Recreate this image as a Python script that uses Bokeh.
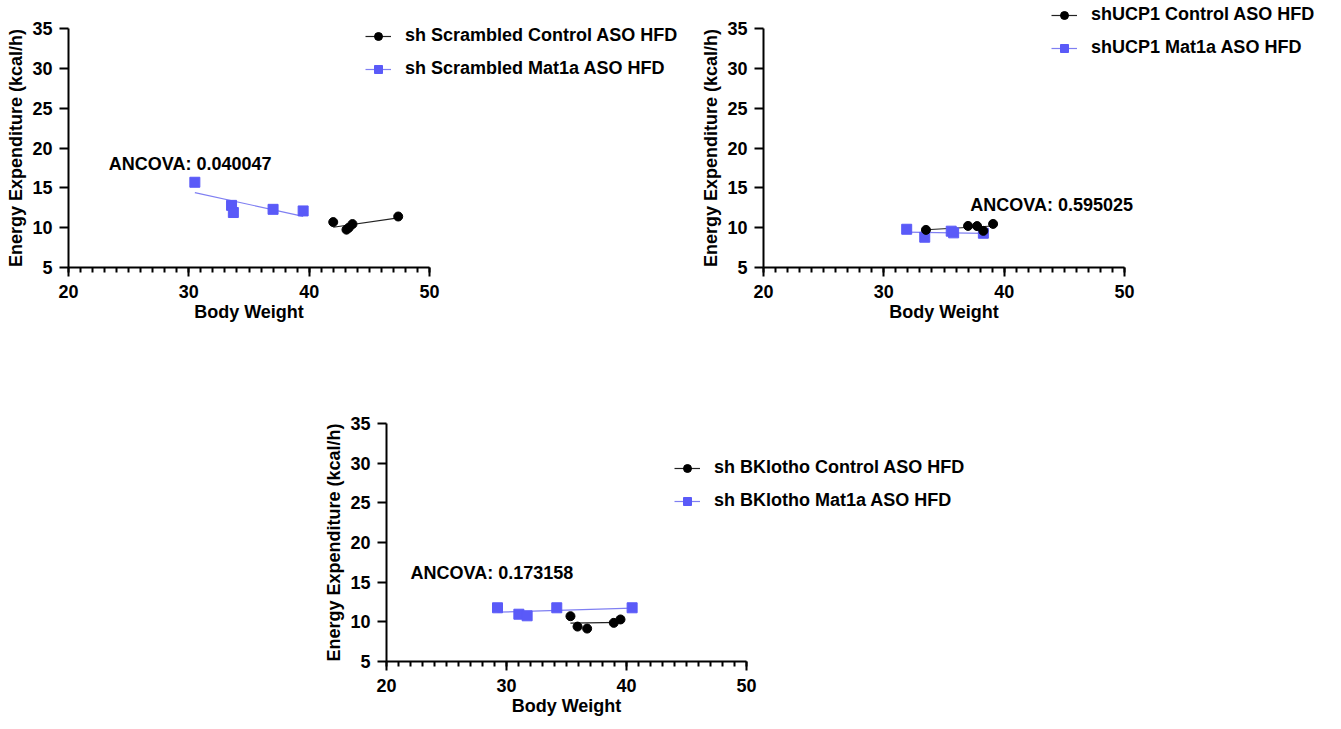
import numpy as np
from bokeh.plotting import figure
from bokeh.layouts import column, row
from bokeh.models import (Legend, LegendItem, Spacer, SingleIntervalTicker,
                          Range1d, Label)
from bokeh.embed import file_html
from bokeh.resources import INLINE

# ---------------- data ----------------
scr_ctrl_bw = [42.0, 43.1, 43.3, 43.6, 47.4]
scr_ctrl_ee = [10.7, 9.75, 10.0, 10.45, 11.4]
scr_mat_bw = [30.5, 33.55, 33.7, 37.0, 39.5]
scr_mat_ee = [15.7, 12.8, 11.9, 12.3, 12.1]

ucp_ctrl_bw = [33.5, 37.0, 37.75, 38.27, 39.08]
ucp_ctrl_ee = [9.72, 10.22, 10.2, 9.6, 10.47]
ucp_mat_bw = [31.9, 33.4, 35.6, 35.8, 38.27]
ucp_mat_ee = [9.8, 8.8, 9.56, 9.35, 9.3]

bk_ctrl_bw = [35.33, 35.92, 36.72, 38.94, 39.5]
bk_ctrl_ee = [10.71, 9.4, 9.15, 9.87, 10.3]
bk_mat_bw = [29.25, 31.03, 31.72, 34.19, 40.47]
bk_mat_ee = [11.77, 10.96, 10.76, 11.77, 11.77]

legend_labels_scr = ["sh Scrambled Control ASO HFD", "sh Scrambled Mat1a ASO HFD"]
legend_labels_ucp = ["shUCP1 Control ASO HFD", "shUCP1 Mat1a ASO HFD"]
legend_labels_bk = ["sh BKlotho Control ASO HFD", "sh BKlotho Mat1a ASO HFD"]

ancova_scr = "ANCOVA: 0.040047"
ancova_ucp = "ANCOVA: 0.595025"
ancova_bk = "ANCOVA: 0.173158"

x_label = "Body Weight"
y_label = "Energy Expenditure (kcal/h)"

FONT = "Liberation Sans"
BLUE = "#5a5af8"
BLUE_LINE = "#7f7ff2"
BLACK = "#000000"


def fit_line(bw, ee):
    k, b = np.polyfit(bw, ee, 1)
    xs = np.array([min(bw), max(bw)])
    return xs, k * xs + b


def make_panel(ctrl_bw, ctrl_ee, mat_bw, mat_ee, labels, ancova, ancova_pos,
               legend_pos, legend_margin, width, height, left, top, fw, fh):
    p = figure(output_backend="svg", toolbar_location=None,
               width=width, height=height, frame_width=fw, frame_height=fh,
               x_range=Range1d(20, 50), y_range=Range1d(5, 35),
               min_border_left=left, min_border_top=top,
               min_border_right=width - left - fw,
               min_border_bottom=height - top - fh)
    p.outline_line_color = None
    p.grid.visible = False
    p.background_fill_color = "white"
    p.border_fill_color = "white"

    p.xaxis.ticker = SingleIntervalTicker(interval=10, num_minor_ticks=10)
    p.yaxis.ticker = SingleIntervalTicker(interval=5, num_minor_ticks=0)
    for ax in (p.xaxis[0], p.yaxis[0]):
        ax.axis_line_width = 2
        ax.axis_line_color = BLACK
        ax.major_tick_line_width = 2
        ax.major_tick_line_color = BLACK
        ax.minor_tick_line_width = 2
        ax.minor_tick_line_color = BLACK
        ax.major_tick_in = 0
        ax.major_tick_out = 9
        ax.minor_tick_in = 0
        ax.minor_tick_out = 5
        ax.major_label_text_font = FONT
        ax.major_label_text_font_style = "bold"
        ax.major_label_text_font_size = "18px"
        ax.major_label_text_color = BLACK
        ax.axis_label_text_font = FONT
        ax.axis_label_text_font_style = "bold"
        ax.axis_label_text_font_size = "18px"
        ax.axis_label_text_color = BLACK
    p.xaxis.axis_label = x_label
    p.yaxis.axis_label = y_label
    p.xaxis.major_label_standoff = 8
    p.yaxis.major_label_standoff = 7
    p.xaxis.axis_label_standoff = 1
    p.yaxis.axis_label_standoff = 3

    cx, cy = fit_line(ctrl_bw, ctrl_ee)
    mx, my = fit_line(mat_bw, mat_ee)
    l_ctrl = p.line(cx, cy, line_color="#222222", line_width=1.2)
    l_mat = p.line(mx, my, line_color=BLUE_LINE, line_width=1.2)
    s_mat = p.scatter(mat_bw, mat_ee, marker="square", size=10,
                      fill_color=BLUE, line_color=BLUE)
    s_ctrl = p.scatter(ctrl_bw, ctrl_ee, marker="circle", size=9,
                       fill_color=BLACK, line_color=BLACK)

    leg = Legend(items=[LegendItem(label=labels[0], renderers=[l_ctrl, s_ctrl]),
                        LegendItem(label=labels[1], renderers=[l_mat, s_mat])],
                 location=legend_pos, orientation="vertical",
                 padding=0, margin=legend_margin, spacing=12,
                 glyph_width=26, glyph_height=20, label_height=20,
                 label_standoff=14,
                 label_text_font=FONT, label_text_font_style="bold",
                 label_text_font_size="18px", label_text_color=BLACK,
                 border_line_color=None, background_fill_alpha=0)
    p.add_layout(leg, "right")

    lab = Label(x=ancova_pos[0], y=ancova_pos[1], text=ancova,
                x_units="data", y_units="data",
                text_font=FONT, text_font_size="18px", text_color=BLACK,
                text_font_style="bold",
                text_baseline="middle", text_align="left", level="overlay")
    p.add_layout(lab, "above")
    return p


H1 = 340
p1 = make_panel(scr_ctrl_bw, scr_ctrl_ee, scr_mat_bw, scr_mat_ee,
                legend_labels_scr, ancova_scr, (23.35, 18.02), (-64, 188), -30,
                width=695, height=H1, left=68, top=28, fw=361, fh=239)
p2 = make_panel(ucp_ctrl_bw, ucp_ctrl_ee, ucp_mat_bw, ucp_mat_ee,
                legend_labels_ucp, ancova_ucp, (37.19, 12.9), (-73, 209), 0,
                width=640, height=H1, left=68, top=28, fw=361, fh=239)
# the first panel's legend widens its canvas; pull the second panel back
p2.margin = (0, 0, 0, -460)
p3 = make_panel(bk_ctrl_bw, bk_ctrl_ee, bk_mat_bw, bk_mat_ee,
                legend_labels_bk, ancova_bk, (22.0, 16.12), (-72, 150), 0,
                width=700, height=387, left=68, top=423 - H1,
                fw=360, fh=238)

layout = column(row(p1, p2), row(Spacer(width=318, height=387), p3))

open("out.html", "w").write(file_html(layout, INLINE))
